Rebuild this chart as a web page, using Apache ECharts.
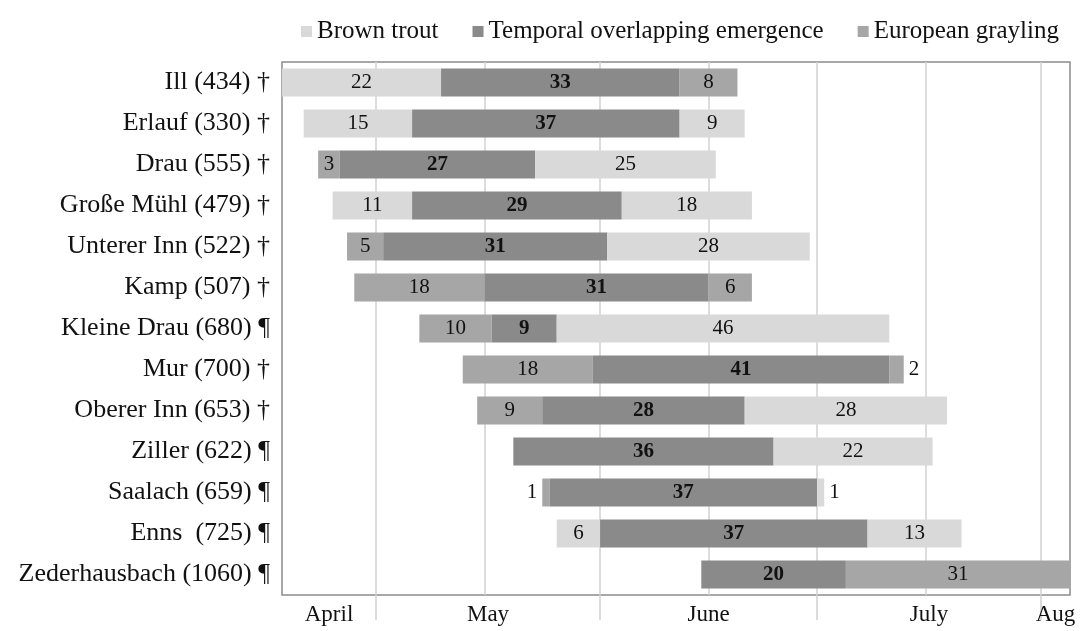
<!DOCTYPE html>
<html lang="en">
<head>
    <meta charset="UTF-8">
    <title>Emergence</title>
    <script src="https://cdn.jsdelivr.net/npm/echarts@6/dist/echarts.min.js"></script>
    <style>
        html, body { margin: 0; padding: 0; background: #fff; }
        #chart { width: 1089px; height: 631px; }
    </style>
</head>
<body>
    <div id="chart"></div>
    <script>
        // rivers, top to bottom
        var rivers = ['Ill (434) †', 'Erlauf (330) †', 'Drau (555) †', 'Große Mühl (479) †',
            'Unterer Inn (522) †', 'Kamp (507) †', 'Kleine Drau (680) ¶', 'Mur (700) †',
            'Oberer Inn (653) †', 'Ziller (622) ¶', 'Saalach (659) ¶', 'Enns  (725) ¶',
            'Zederhausbach (1060) ¶'];
        // day of first emergence (days since 1 April)
        var start = [17, 20, 22, 24, 26, 27, 36, 42, 44, 49, 53, 55, 75];
        var troutFirst = [22, 15, '-', 11, '-', '-', '-', '-', '-', '-', '-', 6, '-'];
        var graylingFirst = ['-', '-', 3, '-', 5, 18, 10, 18, 9, '-', 1, '-', '-'];
        var overlap = [33, 37, 27, 29, 31, 31, 9, 41, 28, 36, 37, 37, 20];
        var troutLast = ['-', 9, 25, 18, 28, '-', 46, '-', 28, 22, 1, 13, '-'];
        var graylingLast = [8, '-', '-', '-', '-', 6, '-', 2, '-', '-', '-', '-', 31];

        // month borders / half-month lines / label positions (days since 1 April)
        var monthStarts = [30, 61, 91, 122];
        var gridLines = [30, 45, 61, 76, 91, 106, 122];
        var monthNames = ['April', 'May', 'June', 'July', 'Aug'];
        var monthLabelAt = [23.5, 45.5, 76, 106.5, 124];

        var serif = "'Liberation Serif', 'Times New Roman', serif";
        var cTrout = '#d9d9d9', cOverlap = '#8a8a8a', cGrayling = '#a6a6a6';

        // tiny segments get their label outside the bar
        function items(arr, side) {
            return arr.map(function (v) {
                if (v !== '-' && v <= 2) {
                    return { value: v, label: { position: side } };
                }
                return v;
            });
        }

        function seg(name, data, color, bold) {
            return {
                name: name,
                type: 'bar',
                stack: 'all',
                z: 2,
                barWidth: 28,
                data: data,
                itemStyle: { color: color },
                label: {
                    show: true,
                    position: 'inside',
                    color: '#111',
                    fontFamily: serif,
                    fontSize: 21,
                    fontWeight: bold ? 'bold' : 'normal'
                }
            };
        }

        var chart = echarts.init(document.getElementById('chart'));
        var option = {
            animation: false,
            textStyle: { fontFamily: serif },
            legend: {
                data: ['Brown trout', 'Temporal overlapping emergence', 'European grayling'],
                right: 25,
                top: 14,
                icon: 'rect',
                itemWidth: 11,
                itemHeight: 11,
                itemGap: 34,
                textStyle: { fontFamily: serif, fontSize: 25, color: '#111' }
            },
            grid: {
                left: 282, right: 19, top: 62, bottom: 36,
                show: true, borderColor: '#8c8c8c', borderWidth: 1.5,
                backgroundColor: 'transparent'
            },
            xAxis: {
                type: 'value',
                min: 17,
                max: 126,
                splitLine: { show: false },
                axisLine: { show: false },
                axisTick: {
                    show: true,
                    customValues: monthStarts,
                    length: 25,
                    lineStyle: { color: '#cfcfcf', width: 1.5 }
                },
                axisLabel: {
                    customValues: monthLabelAt,
                    formatter: function (v) {
                        return monthNames[monthLabelAt.indexOf(v)];
                    },
                    margin: 8,
                    color: '#111',
                    fontFamily: serif,
                    fontSize: 23
                }
            },
            yAxis: {
                type: 'category',
                data: rivers,
                inverse: true,
                axisLine: { show: false },
                axisTick: { show: false },
                axisLabel: { color: '#111', fontFamily: serif, fontSize: 26, margin: 12 }
            },
            series: [
                {
                    name: 'offset',
                    type: 'bar',
                    stack: 'all',
                    z: 1,
                    barWidth: 28,
                    data: start,
                    itemStyle: { color: 'transparent' },
                    markLine: {
                        silent: true,
                        z: 1,
                        symbol: 'none',
                        label: { show: false },
                        lineStyle: { color: '#d2d2d2', width: 1.5, type: 'solid' },
                        data: gridLines.map(function (d) { return { xAxis: d }; })
                    }
                },
                seg('Brown trout', items(troutFirst, 'left'), cTrout, false),
                seg('European grayling', items(graylingFirst, 'left'), cGrayling, false),
                seg('Temporal overlapping emergence', overlap, cOverlap, true),
                seg('Brown trout', items(troutLast, 'right'), cTrout, false),
                seg('European grayling', items(graylingLast, 'right'), cGrayling, false)
            ]
        };
        chart.setOption(option);
    </script>
</body>
</html>
